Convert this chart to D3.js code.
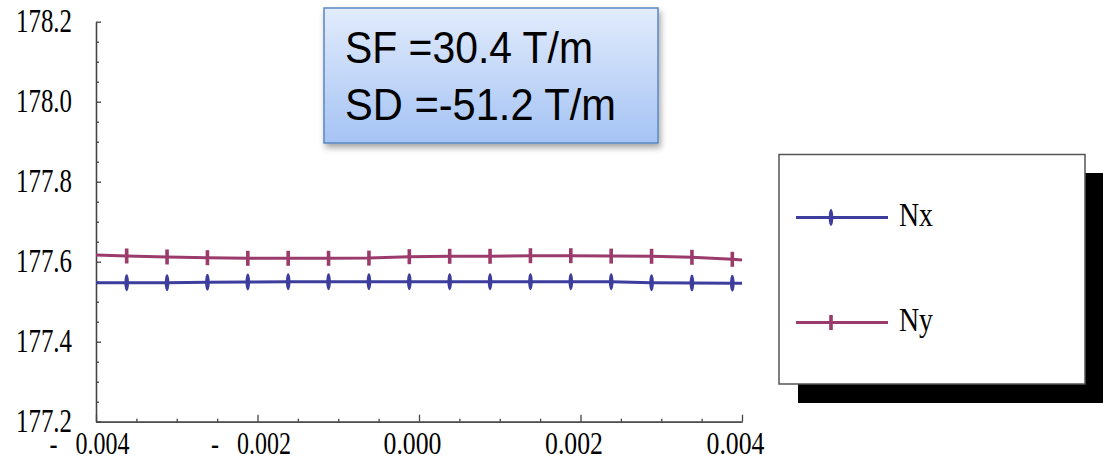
<!DOCTYPE html>
<html>
<head>
<meta charset="utf-8">
<script src="https://cdn.jsdelivr.net/npm/d3@7"></script>
<style>
  body { margin: 0; background: #fff; }
  svg { display: block; }
</style>
</head>
<body>
<svg width="1103" height="460"></svg>
<script>
// x values (first and last points are line ends without a marker)
const xVals = [-0.004, -0.00362, -0.00312, -0.00262, -0.00212, -0.00162, -0.00112, -0.00062, -0.00012,
  0.00038, 0.00088, 0.00138, 0.00188, 0.00238, 0.00288, 0.00338, 0.00388, 0.004];
const nxVals = [177.5475, 177.5475, 177.5475, 177.5485, 177.549, 177.55, 177.55, 177.55, 177.55,
  177.55, 177.55, 177.55, 177.55, 177.55, 177.5475, 177.547, 177.546, 177.546];
const nyVals = [177.617, 177.6143, 177.6118, 177.610, 177.6085, 177.6085, 177.6085, 177.609, 177.6125,
  177.6135, 177.6135, 177.615, 177.615, 177.614, 177.6135, 177.611, 177.606, 177.604];
const yTicks = [177.2, 177.4, 177.6, 177.8, 178.0, 178.2];
const yMinor = [177.25, 177.3, 177.35, 177.45, 177.5, 177.55, 177.65, 177.7, 177.75, 177.85, 177.9, 177.95, 178.05, 178.1, 178.15];
const xTicks = [-0.004, -0.002, 0, 0.002, 0.004];
const xMinor = [-0.0035, -0.003, -0.0025, -0.0015, -0.001, -0.0005, 0.0005, 0.001, 0.0015, 0.0025, 0.003, 0.0035];
const seriesNames = ["Nx", "Ny"];
const boxLines = ["SF =30.4 T/m", "SD =-51.2 T/m"];
const boxWidths = [248, 271]; // measured text widths in the box

const svg = d3.select("svg");
const x = d3.scaleLinear().domain([-0.004, 0.004]).range([96, 742]);
const y = d3.scaleLinear().domain([177.2, 178.2]).range([421.7, 21.7]);

const colors = { Nx: "#3d3d9d", Ny: "#9b3b6c" };

// y axis
svg.append("g").attr("transform", "translate(96,0)")
  .call(d3.axisLeft(y).tickValues(yMinor).tickSize(-3).tickSizeOuter(0).tickFormat(""));
const yAxis = svg.append("g").attr("transform", "translate(96,0)")
  .call(d3.axisLeft(y).tickValues(yTicks).tickSize(-5).tickSizeOuter(0).tickPadding(24)
    .tickFormat(d3.format(".1f")));
yAxis.selectAll("text")
  .attr("font-family", "Liberation Serif").attr("font-size", 33)
  .attr("textLength", 56).attr("lengthAdjust", "spacingAndGlyphs")
  .attr("fill", "#000").attr("dy", "0.31em");

// x axis
svg.append("g").attr("transform", `translate(0,${y(177.2)})`)
  .call(d3.axisBottom(x).tickValues(xMinor).tickSize(-3).tickSizeOuter(0).tickFormat(""));
const fmt = d3.format(".3f");
const xAxis = svg.append("g").attr("transform", `translate(0,${y(177.2)})`)
  .call(d3.axisBottom(x).tickValues(xTicks).tickSize(-7).tickSizeOuter(0).tickPadding(12)
    .tickFormat(d => d < 0 ? "-   " + fmt(-d) : fmt(Math.abs(d))));
xAxis.selectAll("text")
  .attr("font-family", "Liberation Serif").attr("font-size", 31)
  .attr("textLength", d => d < 0 ? 80 : 58).attr("lengthAdjust", "spacingAndGlyphs")
  .attr("fill", "#000").attr("dx", -7).attr("dy", "0.66em")
  .style("white-space", "pre");

svg.selectAll(".domain, .tick line").attr("stroke", "#444").attr("stroke-width", 1.3);

// lines
const series = [
  { name: "Nx", vals: nxVals },
  { name: "Ny", vals: nyVals }
];
const line = d3.line().x((d, i) => x(xVals[i])).y(d => y(d));

function drawMarker(g, name, cx, cy) {
  if (name === "Nx") {
    g.append("ellipse").attr("cx", cx).attr("cy", cy).attr("rx", 2.3).attr("ry", 8.5)
      .attr("fill", colors.Nx);
  } else {
    g.append("rect").attr("x", cx - 1.8).attr("y", cy - 7.5).attr("width", 3.6).attr("height", 15)
      .attr("fill", colors.Ny);
  }
}

series.forEach(s => {
  const g = svg.append("g");
  g.append("path").datum(s.vals).attr("d", line)
    .attr("fill", "none").attr("stroke", colors[s.name]).attr("stroke-width", 3);
  s.vals.forEach((v, i) => {
    if (i === 0 || i === s.vals.length - 1) return;
    drawMarker(g, s.name, x(xVals[i]), y(v));
  });
});

// text box
const defs = svg.append("defs");
const grad = defs.append("linearGradient").attr("id", "boxgrad")
  .attr("x1", 0).attr("y1", 0).attr("x2", 0).attr("y2", 1);
grad.append("stop").attr("offset", "0%").attr("stop-color", "#e2ecfc");
grad.append("stop").attr("offset", "100%").attr("stop-color", "#a5c3f4");
const shadow = defs.append("filter").attr("id", "shadow")
  .attr("x", "-10%").attr("y", "-10%").attr("width", "130%").attr("height", "140%");
shadow.append("feDropShadow").attr("dx", 2).attr("dy", 4).attr("stdDeviation", 3)
  .attr("flood-color", "#000").attr("flood-opacity", 0.35);

const box = svg.append("g");
box.append("rect").attr("x", 324).attr("y", 8).attr("width", 334).attr("height", 135)
  .attr("fill", "url(#boxgrad)").attr("stroke", "#5a86c3").attr("stroke-width", 1.5)
  .attr("filter", "url(#shadow)");
box.selectAll("text.box").data(boxLines).join("text")
  .attr("class", "box")
  .attr("x", 345).attr("y", (d, i) => 63 + i * 57)
  .attr("font-family", "Liberation Sans").attr("font-size", 44)
  .attr("textLength", (d, i) => boxWidths[i]).attr("lengthAdjust", "spacingAndGlyphs")
  .attr("fill", "#000")
  .text(d => d);

// legend
const leg = svg.append("g");
leg.append("rect").attr("x", 798).attr("y", 173).attr("width", 320).attr("height", 230).attr("fill", "#000");
leg.append("rect").attr("x", 779).attr("y", 154.5).attr("width", 306).attr("height", 229.5)
  .attr("fill", "#fff").attr("stroke", "#555").attr("stroke-width", 1.5);
seriesNames.forEach((name, i) => {
  const ly = 217.5 + i * 105;
  const g = leg.append("g");
  g.append("line").attr("x1", 796).attr("x2", 888).attr("y1", ly).attr("y2", ly)
    .attr("stroke", colors[name]).attr("stroke-width", 3);
  drawMarker(g, name, 831, ly);
  g.append("text").attr("x", 899).attr("y", ly + 8)
    .attr("font-family", "Liberation Serif").attr("font-size", 34)
    .attr("textLength", 34).attr("lengthAdjust", "spacingAndGlyphs")
    .attr("fill", "#000").text(name);
});
</script>
</body>
</html>
